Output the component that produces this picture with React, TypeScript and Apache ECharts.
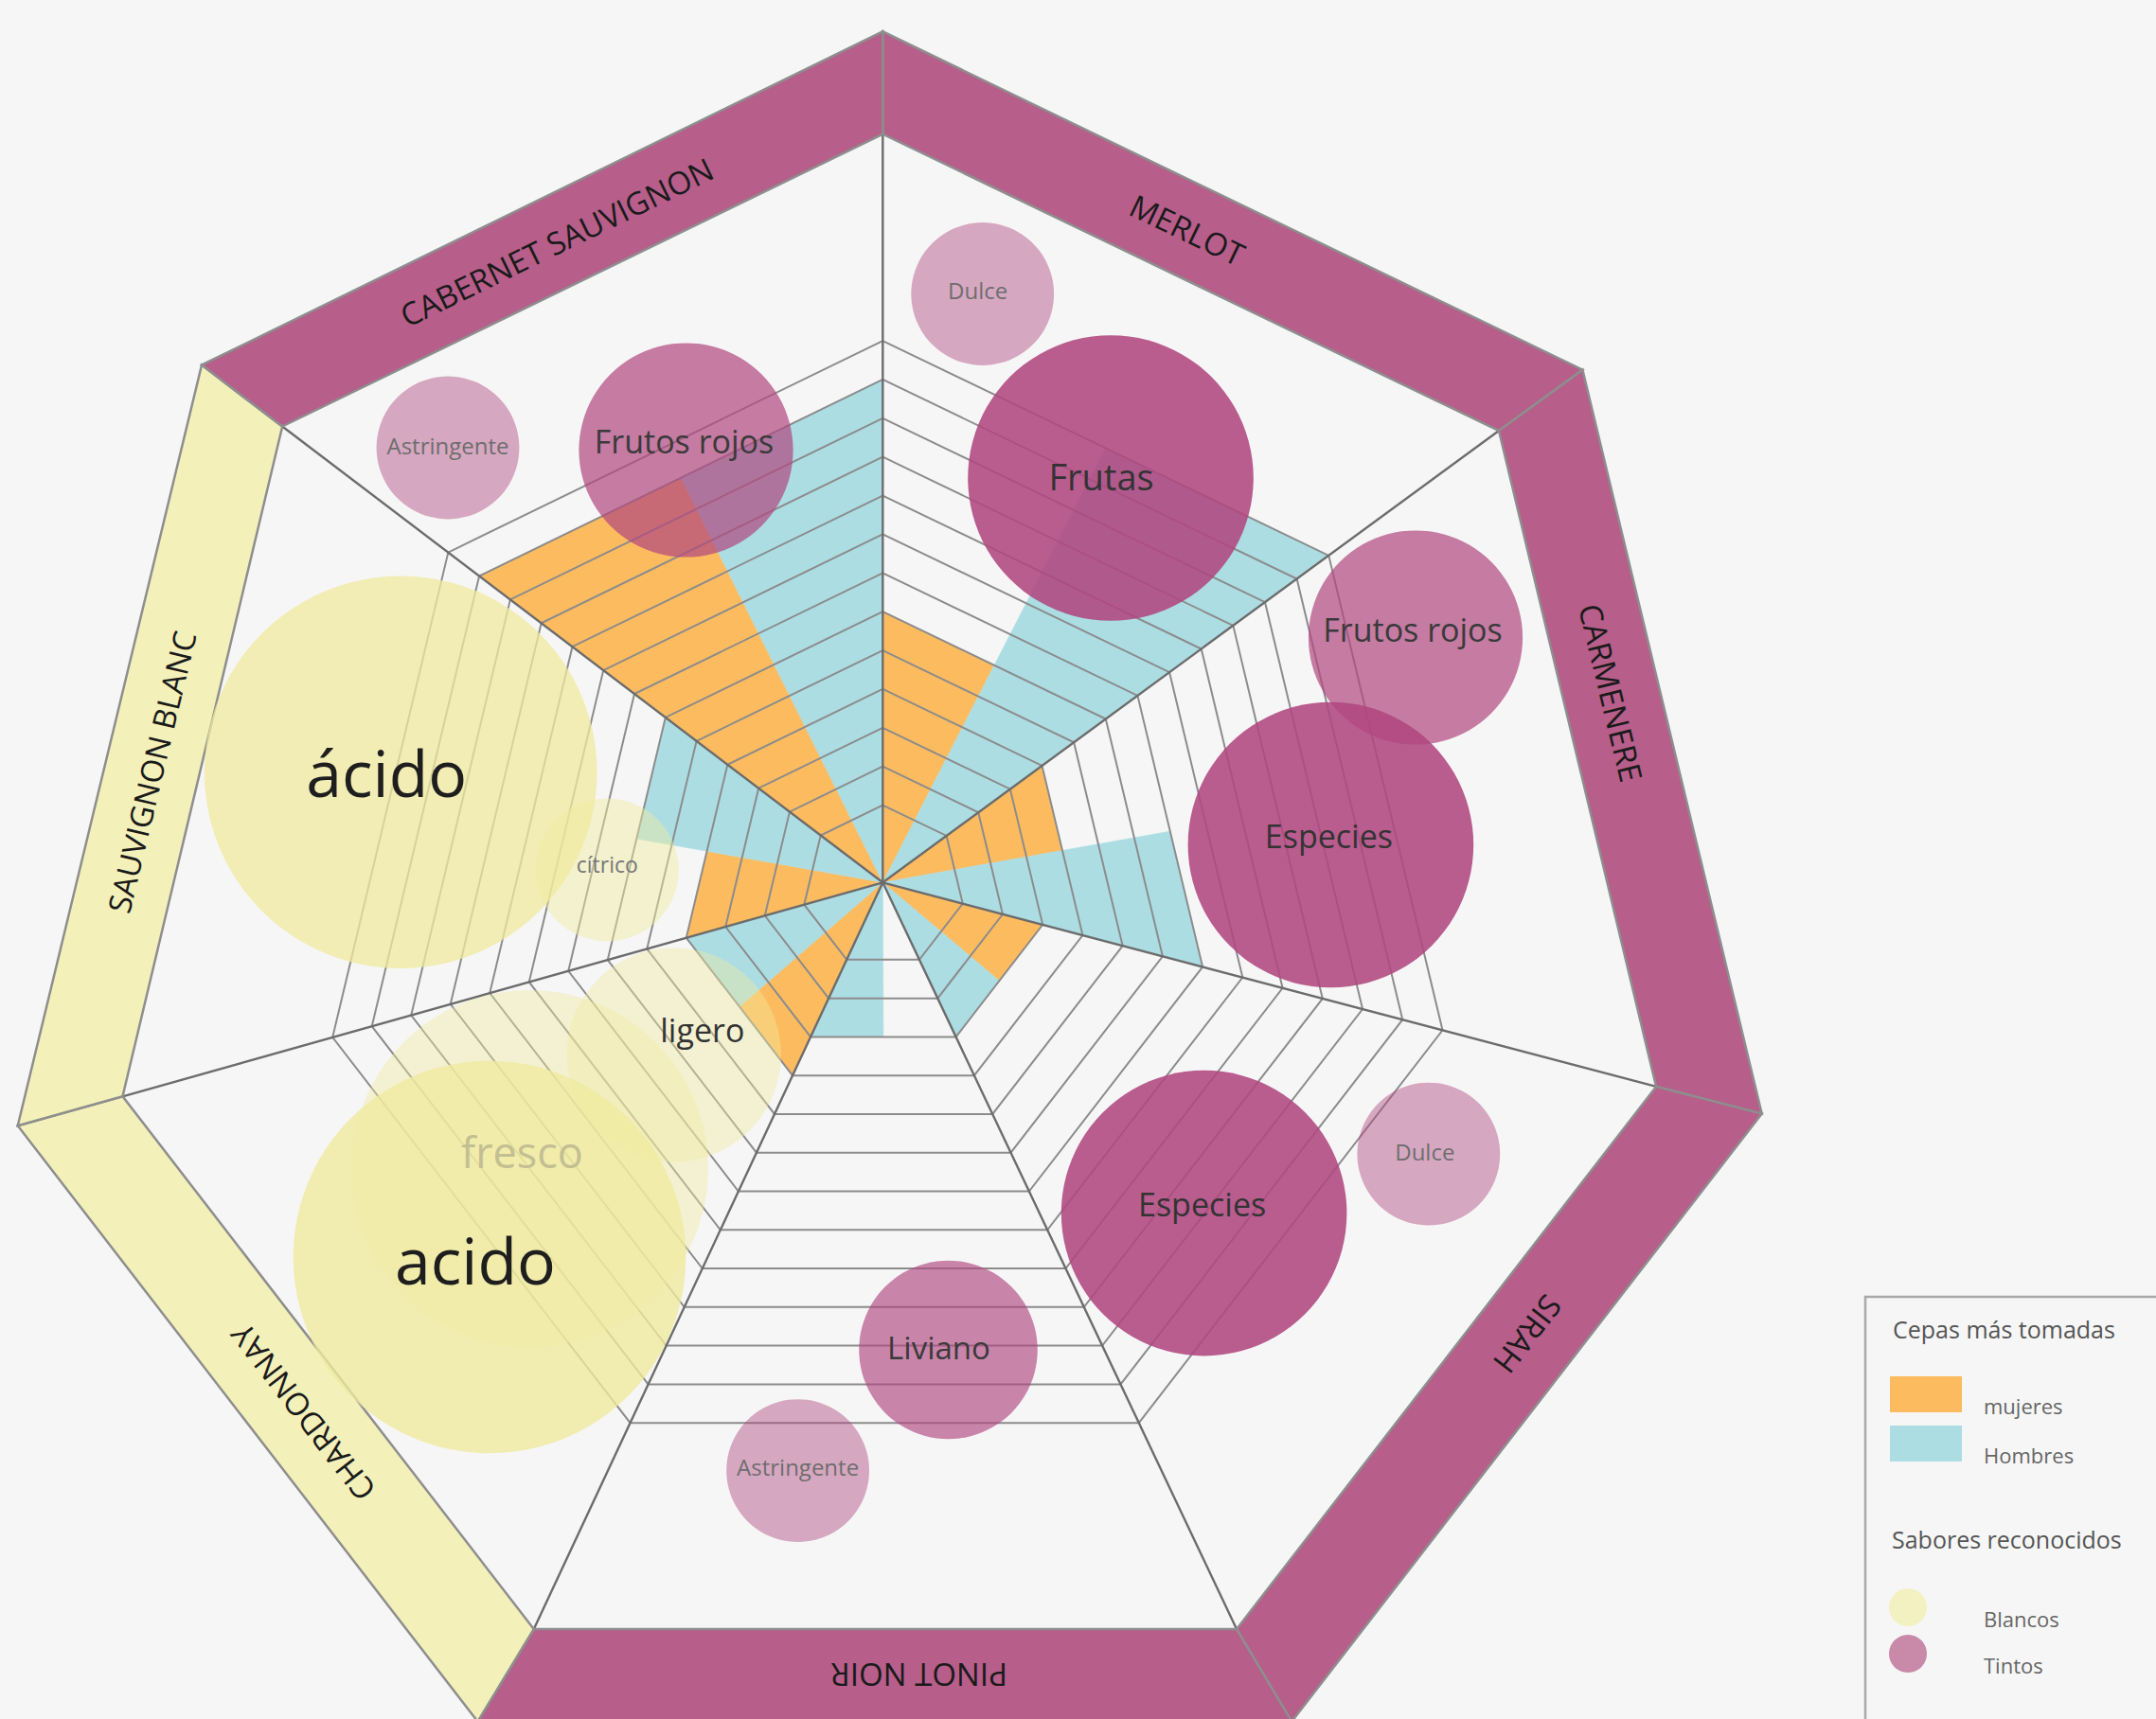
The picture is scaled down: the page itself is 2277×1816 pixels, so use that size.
import React, { useEffect, useRef } from 'react';
import * as echarts from 'echarts';

// ---------------- data ----------------
const CEPAS = ['MERLOT', 'CARMENERE', 'SIRAH', 'PINOT NOIR', 'CHARDONNAY', 'SAUVIGNON BLANC', 'CABERNET SAUVIGNON'];
const CEPA_TIPO = ['Tintos', 'Tintos', 'Tintos', 'Tintos', 'Blancos', 'Blancos', 'Tintos'];
// levels (grid steps) reached by each half-sector
const MUJERES = [7, 5, 4, 0, 5, 5, 13];
const HOMBRES = [14, 8, 4, 4, 5, 7, 13];
const NIVELES = [2, 3, 4, 5, 6, 7, 8, 9, 10, 11, 12, 13, 14];

const TINTOS_NOMBRE = ['Dulce', 'Frutas', 'Frutos rojos', 'Astringente', 'Frutos rojos', 'Especies', 'Especies', 'Dulce', 'Liviano', 'Astringente'];
const TINTOS_CEPA = ['MERLOT', 'MERLOT', 'CABERNET SAUVIGNON', 'CABERNET SAUVIGNON', 'CARMENERE', 'CARMENERE', 'SIRAH', 'SIRAH', 'PINOT NOIR', 'PINOT NOIR'];
const TINTOS_VALOR = [4, 8, 6, 4, 6, 8, 8, 4, 5, 4];

const BLANCOS_NOMBRE = ['ácido', 'cítrico', 'fresco', 'ligero', 'acido'];
const BLANCOS_CEPA = ['SAUVIGNON BLANC', 'SAUVIGNON BLANC', 'CHARDONNAY', 'CHARDONNAY', 'CHARDONNAY'];
const BLANCOS_VALOR = [11, 4, 10, 6, 11];

// ---------------- layout ----------------
const W = 2277;
const H = 1816;
const HUB = [932.3, 932.3];
const INNER = [[932.3, 141.7], [1583, 455], [1749.1, 1147.9], [1306, 1721], [563.8, 1721], [129.5, 1158.3], [298.2, 450.5]];
const OUTER = [[932.3, 33.3], [1671.4, 390.7], [1860.7, 1176.6], [1364.2, 1818.7], [504.5, 1818.7], [18.75, 1189.3], [213, 385.6]];
const LEVEL_STEP = 0.0517;
const LABEL_FRAC = [0.463, 0.418, 0.407, 0.455, 0.466, 0.474, 0.491];
const DIAM_UNIT = 37.7;
const TINTOS_POS = [[1037.7, 310.5], [1173, 505], [724.5, 475.5], [473, 473], [1495, 673.5], [1405.4, 892.5], [1271.6, 1281.6], [1508.8, 1219.1], [1001.5, 1426], [842.6, 1553.6]];
const BLANCOS_POS = [[423.2, 815.8], [641.3, 918.9], [559.5, 1234.5], [711.8, 1114.3], [517, 1328]];

// ---------------- styles ----------------
const FONT = "'Open Sans', 'Noto Sans', sans-serif";
const COL = {
  bg: '#f6f6f6',
  mujeres: '#fdbb5f',
  hombres: '#acdde3',
  grid: '#8c8c8c',
  spoke: '#6c6c6c',
  bandTinto: '#b75e8a',
  bandBlanco: '#f3f0b9',
  bandStroke: '#8e8e8e',
};
const tinto = (a: number) => `rgba(176,71,127,${a})`;
const blanco = (a: number) => `rgba(240,234,158,${a})`;
const TINTOS_STYLE = [
  { op: 0.45, fs: 24, col: '#6e6e6e', off: [-5, -4] },
  { op: 0.88, fs: 38, col: '#333333', off: [-10, -2] },
  { op: 0.7, fs: 34, col: '#3a3a3a', off: [-2, -10] },
  { op: 0.45, fs: 24, col: '#6e6e6e', off: [0, -3] },
  { op: 0.7, fs: 34, col: '#3a3a3a', off: [-3, -9] },
  { op: 0.88, fs: 34, col: '#333333', off: [-2, -10] },
  { op: 0.88, fs: 34, col: '#333333', off: [-2, -10] },
  { op: 0.45, fs: 24, col: '#6e6e6e', off: [-4, -3] },
  { op: 0.65, fs: 33, col: '#3a3a3a', off: [-10, -3] },
  { op: 0.45, fs: 24, col: '#6e6e6e', off: [0, -4] },
];
const BLANCOS_STYLE = [
  { op: 0.75, fs: 68, col: '#1e1e1e', off: [-15, 0] },
  { op: 0.45, fs: 23, col: '#777777', off: [0, -6] },
  { op: 0.4, fs: 45, col: '#c3bf93', off: [-8, -18] },
  { op: 0.4, fs: 34, col: '#333333', off: [30, -26] },
  { op: 0.78, fs: 68, col: '#1e1e1e', off: [-15, 2] },
];

const lerp = (p: number[], q: number[], t: number) => [p[0] + (q[0] - p[0]) * t, p[1] + (q[1] - p[1]) * t];
const mid = (p: number[], q: number[]) => lerp(p, q, 0.5);

const wedge = (half: number, color: string) => (params: any, api: any) => {
  const i = api.value(0);
  const lvl = api.value(1);
  if (!lvl) return { type: 'group', children: [] };
  const t = lvl * LEVEL_STEP;
  const a = INNER[i];
  const b = INNER[(i + 1) % 7];
  const m = mid(a, b);
  const pts = half === 0 ? [HUB, lerp(HUB, a, t), lerp(HUB, m, t)] : [HUB, lerp(HUB, m, t), lerp(HUB, b, t)];
  return {
    type: 'polygon',
    shape: { points: pts.map((p) => api.coord(p)) },
    style: { fill: color, stroke: color, lineWidth: 0.6 },
  };
};

const gridRender = (params: any, api: any) => {
  const t = api.value(0) * LEVEL_STEP;
  return {
    type: 'polygon',
    shape: { points: INNER.map((v) => api.coord(lerp(HUB, v, t))) },
    style: { fill: 'none', stroke: COL.grid, lineWidth: 2 },
  };
};

const spokeRender = (params: any, api: any) => {
  const i = api.value(0);
  const a = api.coord(HUB);
  const b = api.coord(INNER[i]);
  return {
    type: 'line',
    shape: { x1: a[0], y1: a[1], x2: b[0], y2: b[1] },
    style: { stroke: COL.spoke, lineWidth: 2.4 },
  };
};

const bandRender = (params: any, api: any) => {
  const i = api.value(0);
  const j = (i + 1) % 7;
  const pts = [INNER[i], INNER[j], OUTER[j], OUTER[i]].map((p) => api.coord(p));
  const pi = mid(INNER[i], OUTER[i]);
  const pj = mid(INNER[j], OUTER[j]);
  const c = api.coord(lerp(pi, pj, LABEL_FRAC[i]));
  const rot = -Math.atan2(pj[1] - pi[1], pj[0] - pi[0]);
  return {
    type: 'group',
    children: [
      {
        type: 'polygon',
        shape: { points: pts },
        style: { fill: CEPA_TIPO[i] === 'Blancos' ? COL.bandBlanco : COL.bandTinto, stroke: COL.bandStroke, lineWidth: 2.5 },
      },
      {
        type: 'text',
        x: c[0],
        y: c[1],
        rotation: rot,
        style: { text: CEPAS[i], fill: '#1a1a1a', fontSize: 33, fontFamily: FONT, align: 'center', verticalAlign: 'middle' },
      },
    ],
  };
};

function bubbleData(names: string[], cepas: string[], vals: number[], pos: number[][], styles: any[], colorFn: (a: number) => string) {
  return names.map((n, i) => ({
    name: n,
    cepa: cepas[i],
    value: [pos[i][0], pos[i][1], vals[i]],
    itemStyle: { color: colorFn(styles[i].op), opacity: 1 },
    label: {
      show: true,
      position: 'inside',
      formatter: '{b}',
      fontSize: styles[i].fs,
      fontFamily: FONT,
      color: styles[i].col,
      offset: styles[i].off,
    },
  }));
}

export default function App() {
  const ref = useRef<HTMLDivElement>(null);
  useEffect(() => {
    document.body.style.margin = '0';
    if (!ref.current) return;
    const chart = echarts.init(ref.current, null, { renderer: 'svg' });
    const legendText = { fontSize: 22, color: '#666', fontFamily: FONT, lineHeight: 24 };
    const option: any = {
      animation: false,
      backgroundColor: COL.bg,
      grid: { left: 0, right: 0, top: 0, bottom: 0 },
      xAxis: { type: 'value', min: 0, max: W, show: false },
      yAxis: { type: 'value', min: 0, max: H, inverse: true, show: false },
      legend: [
        {
          data: ['mujeres', 'Hombres'],
          orient: 'vertical',
          left: 1996,
          top: 1449,
          padding: 0,
          icon: 'rect',
          itemWidth: 76,
          itemHeight: 38,
          itemGap: 4,
          selectedMode: false,
          formatter: (name: string) => '\n' + name,
          textStyle: { ...legendText, padding: [0, 0, 0, 18] },
        },
        {
          data: ['Blancos', 'Tintos'],
          orient: 'vertical',
          left: 1995,
          top: 1674,
          padding: 0,
          icon: 'circle',
          itemWidth: 40,
          itemHeight: 40,
          itemGap: 1,
          selectedMode: false,
          formatter: (name: string) => '\n' + name,
          textStyle: { ...legendText, padding: [0, 0, 0, 55] },
        },
      ],
      graphic: [
        { type: 'rect', shape: { x: 1970, y: 1370, width: 400, height: 520 }, style: { fill: 'none', stroke: '#a9a9a9', lineWidth: 2.5 }, z: 10 },
        { type: 'text', x: 1999, y: 1404, style: { text: 'Cepas más tomadas', fill: '#555', fontSize: 25, fontFamily: FONT, verticalAlign: 'middle' }, z: 10 },
        { type: 'text', x: 1998, y: 1626, style: { text: 'Sabores reconocidos', fill: '#555', fontSize: 25, fontFamily: FONT, verticalAlign: 'middle' }, z: 10 },
      ],
      series: [
        { type: 'custom', name: 'mujeres', z: 1, itemStyle: { color: COL.mujeres }, data: MUJERES.map((v, i) => [i, v]), renderItem: wedge(0, COL.mujeres) },
        { type: 'custom', name: 'Hombres', z: 1, itemStyle: { color: COL.hombres }, data: HOMBRES.map((v, i) => [i, v]), renderItem: wedge(1, COL.hombres) },
        { type: 'custom', name: 'niveles', z: 2, silent: true, data: NIVELES.map((l) => [l, 0]), renderItem: gridRender },
        { type: 'custom', name: 'ejes', z: 3, silent: true, data: CEPAS.map((c, i) => [i, 0]), renderItem: spokeRender },
        { type: 'custom', name: 'cepas', z: 4, silent: true, data: CEPAS.map((c, i) => ({ name: c, value: [i, 0] })), renderItem: bandRender },
        {
          type: 'scatter',
          name: 'Blancos',
          z: 5,
          symbol: 'circle',
          itemStyle: { color: '#f3f0c2', opacity: 1 },
          emphasis: { disabled: true },
          symbolSize: (v: number[]) => v[2] * DIAM_UNIT,
          data: bubbleData(BLANCOS_NOMBRE, BLANCOS_CEPA, BLANCOS_VALOR, BLANCOS_POS, BLANCOS_STYLE, blanco),
        },
        {
          type: 'scatter',
          name: 'Tintos',
          z: 6,
          symbol: 'circle',
          itemStyle: { color: '#c98aaa', opacity: 1 },
          emphasis: { disabled: true },
          symbolSize: (v: number[]) => v[2] * DIAM_UNIT,
          data: bubbleData(TINTOS_NOMBRE, TINTOS_CEPA, TINTOS_VALOR, TINTOS_POS, TINTOS_STYLE, tinto),
        },
      ],
    };
    chart.setOption(option);
    return () => chart.dispose();
  }, []);
  return <div ref={ref} style={{ position: 'absolute', left: 0, top: 0, width: W, height: H }} />;
}
